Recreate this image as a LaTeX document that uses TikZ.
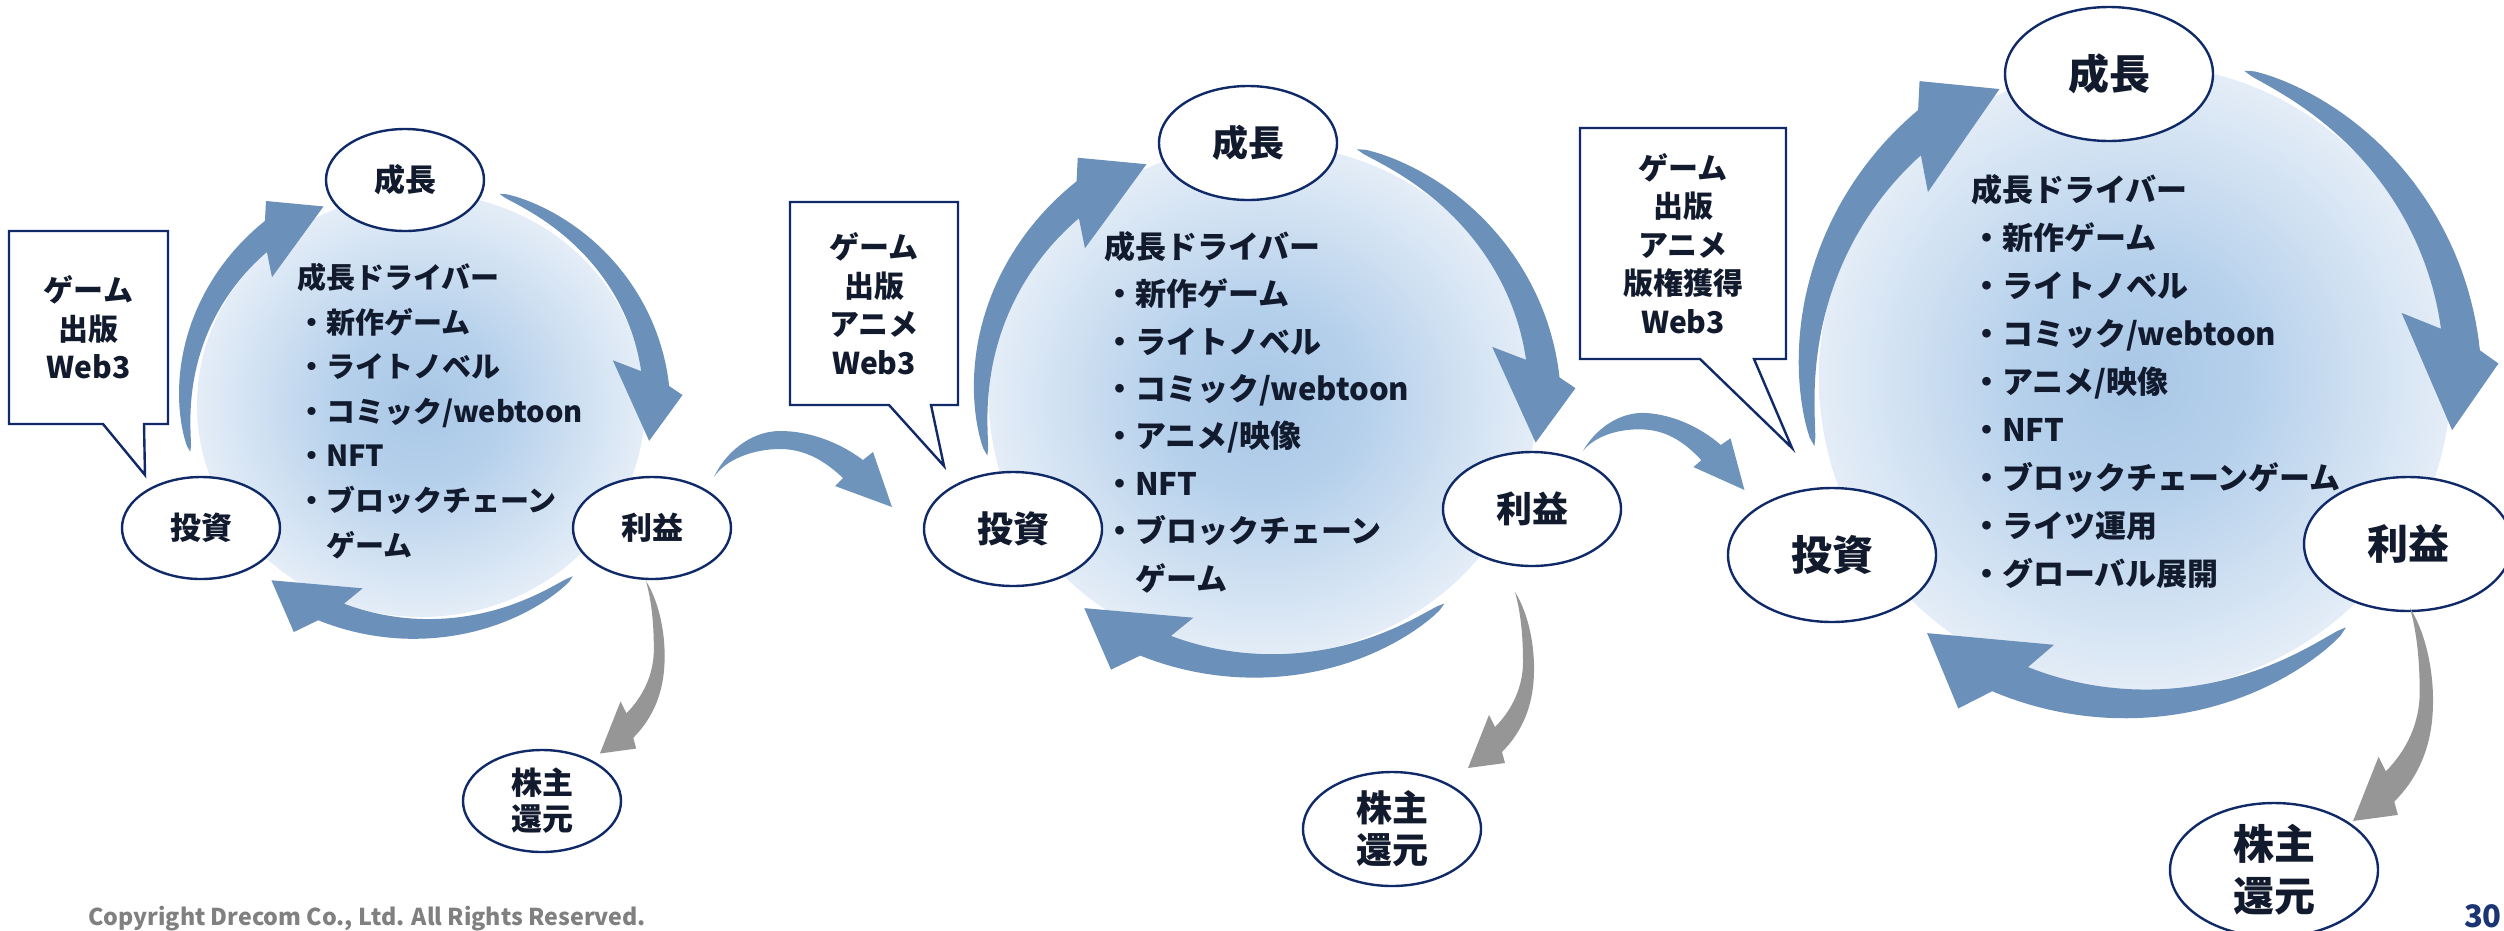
\documentclass[tikz,border=0pt]{standalone}
\usepackage{fontspec}
\setmainfont{Noto Sans CJK JP}
\usetikzlibrary{calc,shapes.geometric}
\definecolor{navy}{HTML}{102A68}
\definecolor{ink}{HTML}{121A2E}
\definecolor{arcblue}{HTML}{6B90B9}
\definecolor{linkblue}{HTML}{6F94BB}
\definecolor{retgray}{HTML}{969696}
\definecolor{diskin}{HTML}{A9C7E6}
\definecolor{diskmid}{HTML}{B5D0EB}
\definecolor{diskout}{HTML}{E4EDF7}
\definecolor{copygray}{HTML}{808080}
\definecolor{pagenavy}{HTML}{1B3474}
\pgfdeclareradialshading{diskshade}{\pgfpoint{0bp}{0bp}}{color(0bp)=(diskin); color(9bp)=(diskmid); color(25bp)=(diskout); color(50bp)=(diskout)}
\newcommand{\aw}{0.055}
% #1 tail angle, #2 outer body end angle, #3 inner body end angle,
% #4/#5 outer head corner (angle/radius), #6/#7 tip, #8/#9 inner head corner
\newcommand{\cycarrow}[9]{%
  \fill[cyclearrow]
    plot[domain=0:1,samples=40,variable=\u]
      ({(1+\aw*sqrt(abs(\u)))*cos(#1+((#2)-(#1))*\u)},{-(1+\aw*sqrt(abs(\u)))*sin(#1+((#2)-(#1))*\u)})
    -- ({#5*cos(#4)},{-#5*sin(#4)})
    -- ({#7*cos(#6)},{-#7*sin(#6)})
    -- ({#9*cos(#8)},{-#9*sin(#8)})
    -- plot[domain=0:1,samples=40,variable=\u]
      ({(1-\aw*sqrt(abs(1-\u)))*cos(#3+((#1)-(#3))*\u)},{-(1-\aw*sqrt(abs(1-\u)))*sin(#3+((#1)-(#3))*\u)})
    -- cycle;}
\tikzset{
  ell/.style={ellipse, draw=navy, line width=2.4pt, fill=white, text=ink, inner sep=0pt, outer sep=0pt, align=center},
  eone/.style={ell, minimum width=158pt, minimum height=102pt, font=\fontsize{31}{36}\selectfont\bfseries},
  etwo/.style={ell, minimum width=178pt, minimum height=114pt, font=\fontsize{36}{42}\selectfont\bfseries},
  ethree/.style={ell, minimum width=208pt, minimum height=134pt, font=\fontsize{41}{52}\selectfont\bfseries},
  calloutline/.style={draw=navy, line width=2.4pt, line join=miter},
  calltext/.style={inner sep=0pt, outer sep=0pt, align=center, text=ink, font=\fontsize{30}{38.5}\selectfont\bfseries},
  drivers/.style={inner sep=0pt, outer sep=0pt, align=left, anchor=west, text=ink},
  cyclearrow/.style={fill=arcblue},
  linkarrow/.style={fill=linkblue},
  retarrow/.style={fill=retgray}
}
\begin{document}
\begin{tikzpicture}[x=1pt,y=-1pt]
\fill[white] (0,0) rectangle (2504,930);
\useasboundingbox (0,0) rectangle (2504,930);

\coordinate (c1) at (421,405);
\coordinate (c2) at (1263,400);
\coordinate (c3) at (2135,378);

% gradient disks
\shade[shading=diskshade] (c1) ellipse [x radius=224pt, y radius=212pt];
\shade[shading=diskshade] (c2) ellipse [x radius=274pt, y radius=256pt];
\shade[shading=diskshade] (c3) ellipse [x radius=316pt, y radius=314pt];

% cycle arrows
\begin{scope}[shift={(c1)},xscale=236,yscale=224]
  \cycarrow{192}{128.8}{133.7}{125.8}{1.123}{115}{0.978}{137.9}{0.851}
  \cycarrow{70.5}{4.6}{9.2}{2.3}{1.109}{-9.4}{0.98}{13.8}{0.837}
  \cycarrow{-50}{-114.4}{-110.2}{-118}{1.148}{-129}{1.007}{-106.8}{0.855}
\end{scope}
\begin{scope}[shift={(c2)},xscale=282,yscale=266]
  \cycarrow{192}{128.8}{133.7}{125.8}{1.123}{115}{0.978}{137.9}{0.851}
  \cycarrow{70.5}{4.6}{9.2}{2.3}{1.109}{-9.4}{0.98}{13.8}{0.837}
  \cycarrow{-50}{-114.4}{-110.2}{-118}{1.148}{-129}{1.007}{-106.8}{0.855}
\end{scope}
\begin{scope}[shift={(c3)},xscale=328,yscale=326]
  \cycarrow{192}{128.8}{133.7}{125.8}{1.123}{115}{0.978}{137.9}{0.851}
  \cycarrow{70.5}{4.6}{9.2}{2.3}{1.109}{-9.4}{0.98}{13.8}{0.837}
  \cycarrow{-50}{-114.4}{-110.2}{-118}{1.148}{-129}{1.007}{-106.8}{0.855}
\end{scope}

% ellipse nodes
\node[eone] (g1) at (405,180) {成長};
\node[eone] (i1) at (201,528) {投資};
\node[eone] (r1) at (652,528) {利益};
\node[eone] (s1) at (542,801) {株主\\還元};

\node[etwo] (g2) at (1248,143) {成長};
\node[etwo] (i2) at (1013,529) {投資};
\node[etwo] (r2) at (1532,509) {利益};
\node[etwo] (s2) at (1392,829) {株主\\還元};

\node[ethree] (g3) at (2109,74) {成長};
\node[ethree] (i3) at (1832,555) {投資};
\node[ethree] (r3) at (2408,544) {利益};
\node[ethree] (s3) at (2274,870) {株主\\還元};

% driver lists
\node[drivers, font=\fontsize{29}{44.6}\selectfont\bfseries] (d1) at (297,411)
  {成長ドライバー\\・新作ゲーム\\・ライトノベル\\・コミック/webtoon\\・NFT\\・ブロックチェーン\\　ゲーム};
\node[drivers, font=\fontsize{31}{47.4}\selectfont\bfseries] (d2) at (1104,412)
  {成長ドライバー\\・新作ゲーム\\・ライトノベル\\・コミック/webtoon\\・アニメ/映像\\・NFT\\・ブロックチェーン\\　ゲーム};
\node[drivers, font=\fontsize{31}{48}\selectfont\bfseries] (d3) at (1971,382)
  {成長ドライバー\\・新作ゲーム\\・ライトノベル\\・コミック/webtoon\\・アニメ/映像\\・NFT\\・ブロックチェーンゲーム\\・ライツ運用\\・グローバル展開};

% links between cycles (利益 -> next 投資)
\coordinate (a1t) at ($(r1.center)+(62,-51)$);
\coordinate (a2t) at ($(r2.center)+(51,-58)$);
\begin{scope}[shift={(a1t)}]
  \fill[linkarrow] (0,0) .. controls (10,-22) and (35,-46) .. (66,-46)
    .. controls (95,-46) and (125,-35) .. (149,-17) -- (159,-25) -- (178,30) -- (121,9) -- (129,1)
    .. controls (110,-17) and (90,-28) .. (66,-28) .. controls (40,-28) and (12,-18) .. (0,0) -- cycle;
\end{scope}
\begin{scope}[shift={(a2t)},rotate=-4,scale=0.92]
  \fill[linkarrow] (0,0) .. controls (10,-22) and (35,-46) .. (66,-46)
    .. controls (95,-46) and (125,-35) .. (149,-17) -- (159,-25) -- (178,30) -- (121,9) -- (129,1)
    .. controls (110,-17) and (90,-28) .. (66,-28) .. controls (40,-28) and (12,-18) .. (0,0) -- cycle;
\end{scope}

% returns (利益 -> 株主還元)
\coordinate (t1) at ($(r1.center)+(-6,53)$);
\coordinate (t2) at ($(r2.center)+(-17,83)$);
\coordinate (t3) at ($(r3.center)+(2,64)$);
\begin{scope}[shift={(t1)},scale=0.98]
  \fill[retarrow] (0,0) .. controls (14,22) and (22,60) .. (18,95) .. controls (15,120) and (5,142) .. (-13,160)
    -- (-10,171) -- (-47,176) -- (-26,123) -- (-20,135)
    .. controls (-3,118) and (8,95) .. (8,70) .. controls (8,40) and (5,18) .. (0,0) -- cycle;
\end{scope}
\begin{scope}[shift={(t2)}]
  \fill[retarrow] (0,0) .. controls (14,22) and (22,60) .. (18,95) .. controls (15,120) and (5,142) .. (-13,160)
    -- (-10,171) -- (-47,176) -- (-26,123) -- (-20,135)
    .. controls (-3,118) and (8,95) .. (8,70) .. controls (8,40) and (5,18) .. (0,0) -- cycle;
\end{scope}
\begin{scope}[shift={(t3)},scale=1.21]
  \fill[retarrow] (0,0) .. controls (14,22) and (22,60) .. (18,95) .. controls (15,120) and (5,142) .. (-13,160)
    -- (-10,171) -- (-47,176) -- (-26,123) -- (-20,135)
    .. controls (-3,118) and (8,95) .. (8,70) .. controls (8,40) and (5,18) .. (0,0) -- cycle;
\end{scope}

% callouts
\node[calltext, minimum width=159pt, minimum height=193pt] (cb1) at (88.5,327.5) {ゲーム\\出版\\Web3};
\coordinate (p1) at ($(i1.center)+(-56,-53)$);
\draw[calloutline] (cb1.north west) -- (cb1.north east) -- (cb1.south east)
  -- ($(cb1.south west)+(135,0)$) -- (p1) -- ($(cb1.south west)+(94,0)$) -- (cb1.south west) -- cycle;

\node[calltext, minimum width=168pt, minimum height=203pt] (cb2) at (874,303.5) {ゲーム\\出版\\アニメ\\Web3};
\coordinate (p2) at ($(i2.center)+(-69,-63)$);
\draw[calloutline] (cb2.north west) -- (cb2.north east) -- (cb2.south east)
  -- ($(cb2.south west)+(141,0)$) -- (p2) -- ($(cb2.south west)+(99,0)$) -- (cb2.south west) -- cycle;

\node[calltext, minimum width=206pt, minimum height=231pt] (cb3) at (1683,243.5) {ゲーム\\出版\\アニメ\\版権獲得\\Web3};
\coordinate (p3) at ($(i3.center)+(-40,-107)$);
\draw[calloutline] (cb3.north west) -- (cb3.north east) -- (cb3.south east)
  -- ($(cb3.south west)+(174,0)$) -- (p3) -- ($(cb3.south west)+(120,0)$) -- (cb3.south west) -- cycle;

% footer
\node[anchor=base west, inner sep=0pt, font=\fontsize{23.2}{27}\selectfont\bfseries, text=copygray] (copy) at (88,925)
  {Copyright Drecom Co., Ltd. All Rights Reserved.};
\node[anchor=base east, inner sep=0pt, font=\fontsize{31}{34}\selectfont\bfseries, text=pagenavy] (pg) at (2502,927) {30};
\end{tikzpicture}
\end{document}
